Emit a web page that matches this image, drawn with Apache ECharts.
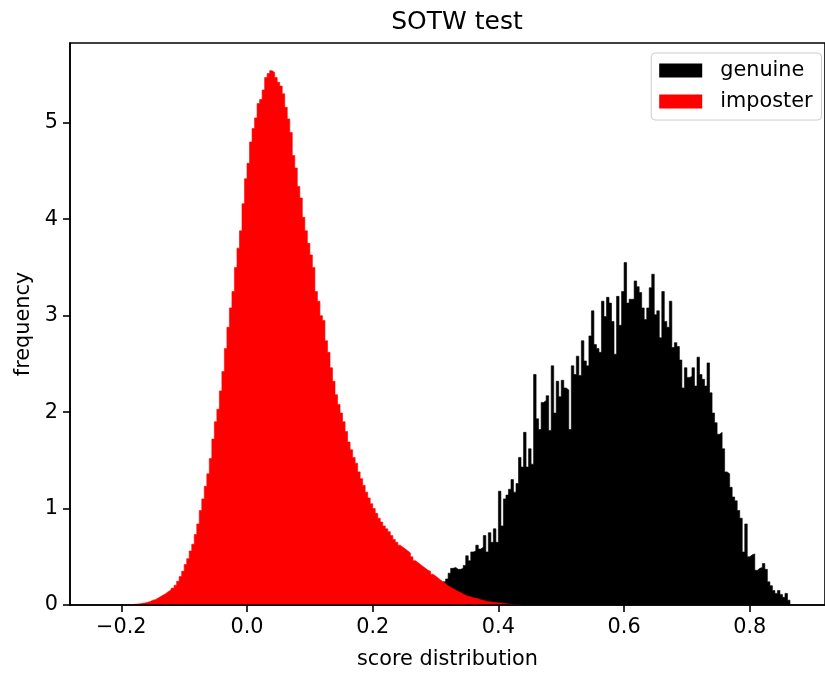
<!DOCTYPE html>
<html>
<head>
<meta charset="utf-8">
<script src="https://cdn.jsdelivr.net/npm/echarts@6/dist/echarts.min.js"></script>
<style>
  html, body { margin: 0; padding: 0; background: #fff; }
  #chart { width: 825px; height: 675px; }
</style>
</head>
<body>
<div id="chart"></div>
<script>
// Histogram bin definitions (density histograms)
const binWidth = 0.004;
const imposterFirstCenter = -0.198;
const genuineFirstCenter = 0.310;

// imposter frequency per bin
const imposterValues = [
  0, 0, 0.002, 0.003, 0.005, 0.008, 0.01, 0.012, 0.018, 0.022,
  0.028, 0.035, 0.05, 0.055, 0.07, 0.085, 0.10, 0.115, 0.135, 0.15,
  0.175, 0.205, 0.245, 0.295, 0.35, 0.42, 0.48, 0.56, 0.63, 0.73,
  0.84, 0.98, 1.10, 1.23, 1.36, 1.52, 1.72, 1.90, 2.03, 2.22,
  2.42, 2.66, 2.88, 3.08, 3.25, 3.50, 3.70, 3.88, 4.16, 4.42,
  4.58, 4.80, 4.94, 5.05, 5.20, 5.24, 5.34, 5.47, 5.51, 5.54,
  5.52, 5.47, 5.42, 5.38, 5.30, 5.16, 5.04, 4.90, 4.66, 4.53,
  4.34, 4.22, 4.02, 3.88, 3.75, 3.63, 3.50, 3.25, 3.15, 3.00,
  2.95, 2.74, 2.62, 2.46, 2.32, 2.18, 2.08, 1.99, 1.90, 1.80,
  1.69, 1.61, 1.53, 1.47, 1.38, 1.31, 1.24, 1.17, 1.11, 1.05,
  1.00, 0.95, 0.90, 0.86, 0.82, 0.79, 0.76, 0.72, 0.68, 0.65,
  0.62, 0.60, 0.58, 0.56, 0.54, 0.50, 0.46, 0.44, 0.42, 0.40,
  0.38, 0.36, 0.35, 0.32, 0.30, 0.28, 0.26, 0.24, 0.22, 0.20,
  0.185, 0.17, 0.155, 0.14, 0.13, 0.115, 0.10, 0.09, 0.085, 0.075,
  0.07, 0.064, 0.055, 0.048, 0.04, 0.036, 0.032, 0.028, 0.025, 0.022,
  0.02, 0.016, 0.013, 0.01, 0.008, 0.006, 0.004, 0.002, 0.001, 0
];

// genuine frequency per bin
const genuineValues = [
  0,
  0.24, 0.27, 0.33, 0.38, 0.39, 0.37, 0.37, 0.38, 0.41, 0.51,
  0.46, 0.55, 0.56, 0.62, 0.58, 0.60, 0.72, 0.55, 0.75, 0.65,
  0.79, 0.65, 1.18, 0.82, 1.10, 1.14, 1.20, 1.30, 1.17, 1.26,
  1.53, 1.43, 1.79, 1.43, 1.62, 1.46, 2.39, 1.93, 1.82, 2.10,
  2.12, 2.17, 1.81, 2.48, 1.99, 2.32, 2.16, 2.33, 2.25, 2.23,
  1.82, 2.48, 2.39, 2.58, 2.38, 2.74, 2.53, 2.48, 2.79, 3.05,
  2.70, 2.66, 2.62, 3.15, 2.99, 3.19, 3.13, 2.94, 2.60, 3.20,
  2.90, 3.25, 3.55, 3.13, 3.17, 3.17, 3.36, 3.30, 3.24, 3.08,
  2.96, 3.08, 3.29, 3.43, 3.01, 3.05, 2.77, 3.25, 2.94, 2.88,
  3.15, 2.67, 2.72, 2.68, 2.54, 2.25, 2.46, 2.36, 2.37, 2.46,
  2.27, 2.57, 2.39, 2.34, 2.27, 2.51, 2.20, 1.99, 1.89, 1.77,
  1.79, 1.62, 1.38, 1.36, 1.22, 1.12, 1.08, 0.98, 0.90, 0.55,
  0.84, 0.50, 0.52, 0.53, 0.36, 0.38, 0.39, 0.43, 0.37, 0.24,
  0.20, 0.15, 0.12, 0.15, 0.11, 0.08, 0.12, 0.05,
  0
];

const xTicks = [-0.2, 0.0, 0.2, 0.4, 0.6, 0.8];
const yTicks = [0, 1, 2, 3, 4, 5];
const seriesNames = ['genuine', 'imposter'];
const seriesColors = ['#000000', '#ff0000'];

function toPoints(values, firstCenter) {
  return values.map((v, i) => [+(firstCenter + i * binWidth).toFixed(4), v]);
}

const FONT = 'DejaVu Sans';
const FS = 20.8;
const chart = echarts.init(document.getElementById('chart'), null, { renderer: 'canvas' });

function histSeries(name, color, values, firstCenter, z) {
  return {
    type: 'line',
    name: name,
    data: toPoints(values, firstCenter),
    step: 'middle',
    symbol: 'none',
    showSymbol: false,
    silent: true,
    lineStyle: { color: color, width: 0.6 },
    itemStyle: { color: color },
    areaStyle: { color: color, opacity: 1 },
    z: z
  };
}

const option = {
  animation: false,
  backgroundColor: '#ffffff',
  title: {
    text: 'SOTW test',
    left: 452,
    top: 5,
    textAlign: 'center',
    textStyle: { fontFamily: FONT, fontSize: 25, fontWeight: 'normal', color: '#000' }
  },
  legend: {
    orient: 'vertical',
    right: 3.5,
    top: 53,
    itemWidth: 43,
    itemHeight: 14,
    itemGap: 10,
    padding: [7, 9, 8, 8],
    backgroundColor: 'rgba(255,255,255,0.8)',
    borderColor: '#cccccc',
    borderWidth: 1,
    borderRadius: 4,
    textStyle: { fontFamily: FONT, fontSize: FS, color: '#000', padding: [0, 0, 0, 13] },
    data: [
      { name: seriesNames[0], icon: 'rect', itemStyle: { color: seriesColors[0] } },
      { name: seriesNames[1], icon: 'rect', itemStyle: { color: seriesColors[1] } }
    ]
  },
  grid: {
    left: 70, right: -5, top: 43, bottom: 69,
    show: true, borderColor: '#000', borderWidth: 1.6, backgroundColor: 'transparent',
    containLabel: false
  },
  xAxis: {
    type: 'value',
    min: -0.2817,
    max: 0.9197,
    z: 10,
    name: 'score distribution',
    nameLocation: 'middle',
    nameGap: 44,
    nameTextStyle: { fontFamily: FONT, fontSize: FS, color: '#000' },
    axisLine: { show: true, onZero: false, lineStyle: { color: '#000', width: 1.6 } },
    splitLine: { show: false },
    axisTick: { show: true, length: 7, lineStyle: { color: '#000', width: 1.6 }, customValues: xTicks },
    axisLabel: {
      customValues: xTicks,
      margin: 12,
      fontFamily: FONT, fontSize: FS, color: '#000',
      formatter: v => v.toFixed(1).replace('-', '\u2212')
    }
  },
  yAxis: {
    type: 'value',
    min: 0,
    max: 5.827,
    z: 10,
    name: 'frequency',
    nameLocation: 'middle',
    nameGap: 30,
    nameTextStyle: { fontFamily: FONT, fontSize: FS, color: '#000' },
    axisLine: { show: true, onZero: false, lineStyle: { color: '#000', width: 1.6 } },
    splitLine: { show: false },
    axisTick: { show: true, length: 7, lineStyle: { color: '#000', width: 1.6 }, customValues: yTicks },
    axisLabel: {
      customValues: yTicks,
      margin: 12,
      fontFamily: FONT, fontSize: FS, color: '#000',
      formatter: v => String(v)
    }
  },
  series: [
    histSeries(seriesNames[0], seriesColors[0], genuineValues, genuineFirstCenter, 2),
    histSeries(seriesNames[1], seriesColors[1], imposterValues, imposterFirstCenter, 3)
  ]
};
chart.setOption(option);
</script>
</body>
</html>
